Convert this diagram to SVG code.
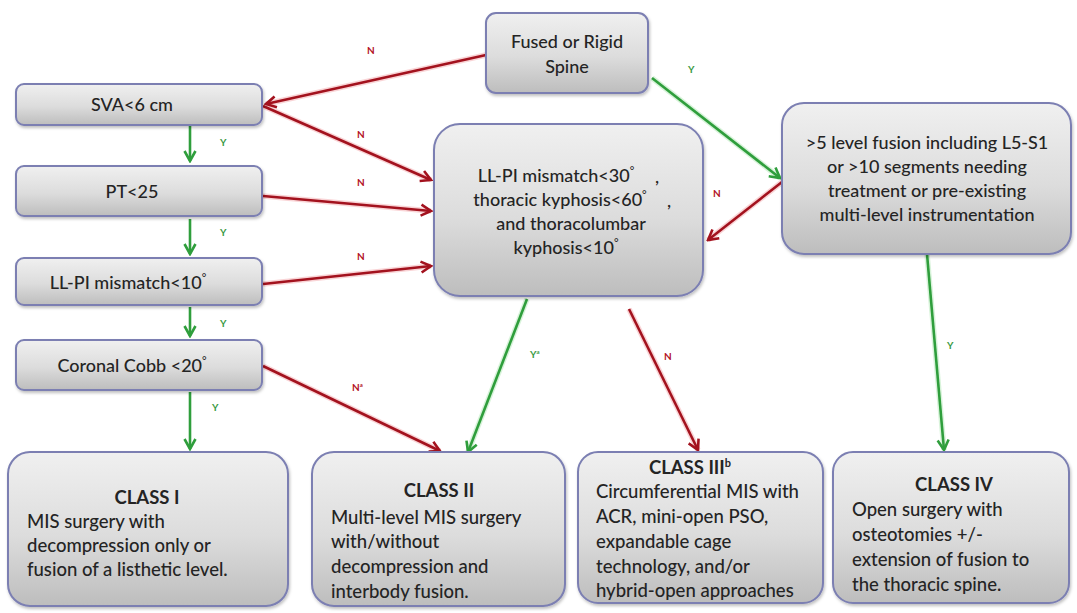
<svg xmlns="http://www.w3.org/2000/svg" width="1077" height="613" viewBox="0 0 1077 613">
<style>
.box{fill:url(#g);stroke:#7b7fb2;stroke-width:2;filter:url(#sh)}
.t{font-family:Lato,"Liberation Sans",sans-serif;font-size:18px;font-weight:500;fill:#242424}
.k{font-size:18.5px}
.c{text-anchor:middle}
.b{font-weight:bold}
.d{font-size:11px}
.red{stroke:#a3121e;stroke-width:2.6;fill:none}
.grn{stroke:#2f9e3c;stroke-width:2.6;fill:none}
.rh{stroke:#f2a0a4;stroke-width:5.5;fill:none;opacity:.45}
.gh{stroke:#a8e4ae;stroke-width:5.5;fill:none;opacity:.45}
.ln{font-family:Lato,"Liberation Sans",sans-serif;font-size:10px;font-weight:bold;fill:#b3121f}
.ly{font-family:Lato,"Liberation Sans",sans-serif;font-size:10px;font-weight:bold;fill:#3a9a44}
</style>
<defs>
<linearGradient id="g" x1="0" y1="0" x2="0" y2="1">
<stop offset="0" stop-color="#f0f0f0"/>
<stop offset="0.55" stop-color="#dcdcdc"/>
<stop offset="1" stop-color="#bdbdbd"/>
</linearGradient>
<filter id="sh" x="-10%" y="-10%" width="120%" height="125%">
<feDropShadow dx="1" dy="2" stdDeviation="1.5" flood-color="#000" flood-opacity="0.25"/>
</filter>
<marker id="ar" viewBox="0 0 14 14" refX="12" refY="7" markerWidth="14" markerHeight="14" markerUnits="userSpaceOnUse" orient="auto">
<path d="M2,1.5 L12,7 L2,12.5" fill="none" stroke="#a3121e" stroke-width="2.6"/>
</marker>
<marker id="ag" viewBox="0 0 14 14" refX="12" refY="7" markerWidth="14" markerHeight="14" markerUnits="userSpaceOnUse" orient="auto">
<path d="M2,1.5 L12,7 L2,12.5" fill="none" stroke="#2f9e3c" stroke-width="2.6"/>
</marker>
</defs>
<rect width="1077" height="613" fill="#ffffff"/>

<g id="connectors">
<g id="halos">
<line class="rh" x1="486" y1="55" x2="266" y2="104"/>
<line class="rh" x1="263" y1="106" x2="431" y2="180"/>
<line class="rh" x1="263" y1="196" x2="431" y2="211"/>
<line class="rh" x1="263" y1="284" x2="431" y2="266"/>
<line class="rh" x1="263" y1="366" x2="440" y2="451"/>
<line class="rh" x1="629" y1="309" x2="698" y2="450"/>
<line class="rh" x1="782" y1="182" x2="708" y2="240"/>
<line class="gh" x1="652" y1="78" x2="780" y2="178"/>
<line class="gh" x1="927" y1="254" x2="944" y2="450"/>
<line class="gh" x1="527" y1="299" x2="468" y2="452"/>
</g>
<line class="red" x1="486" y1="55" x2="266" y2="104" marker-end="url(#ar)"/>
<line class="red" x1="263" y1="106" x2="431" y2="180" marker-end="url(#ar)"/>
<line class="red" x1="263" y1="196" x2="431" y2="211" marker-end="url(#ar)"/>
<line class="red" x1="263" y1="284" x2="431" y2="266" marker-end="url(#ar)"/>
<line class="red" x1="263" y1="366" x2="440" y2="451" marker-end="url(#ar)"/>
<line class="red" x1="629" y1="309" x2="698" y2="450" marker-end="url(#ar)"/>
<line class="red" x1="782" y1="182" x2="708" y2="240" marker-end="url(#ar)"/>
<line class="grn" x1="652" y1="78" x2="780" y2="178" marker-end="url(#ag)"/>
<line class="grn" x1="927" y1="254" x2="944" y2="450" marker-end="url(#ag)"/>
<line class="grn" x1="527" y1="299" x2="468" y2="452" marker-end="url(#ag)"/>
<line class="grn" x1="190" y1="126" x2="190" y2="161" marker-end="url(#ag)"/>
<line class="grn" x1="190" y1="219" x2="190" y2="254" marker-end="url(#ag)"/>
<line class="grn" x1="190" y1="307" x2="190" y2="336" marker-end="url(#ag)"/>
<line class="grn" x1="190" y1="392" x2="190" y2="449" marker-end="url(#ag)"/>
<text class="ln" x="367" y="54">N</text>
<text class="ln" x="357" y="138">N</text>
<text class="ln" x="357" y="186">N</text>
<text class="ln" x="357" y="260">N</text>
<text class="ln" x="352" y="391">N<tspan font-size="6" dy="-4">a</tspan></text>
<text class="ln" x="664" y="360">N</text>
<text class="ln" x="713" y="197">N</text>
<text class="ly" x="688" y="73">Y</text>
<text class="ly" x="947" y="349">Y</text>
<text class="ly" x="530" y="358">Y<tspan font-size="6" dy="-4">a</tspan></text>
<text class="ly" x="220" y="146">Y</text>
<text class="ly" x="220" y="236">Y</text>
<text class="ly" x="220" y="327">Y</text>
<text class="ly" x="212" y="411">Y</text>
</g>

<g id="fused">
<rect class="box" x="486" y="13" width="162" height="80" rx="10"/>
<text class="t c" x="567" y="48">Fused or Rigid</text>
<text class="t c" x="567" y="73">Spine</text>
</g>
<g id="sva">
<rect class="box" x="16" y="84" width="246" height="41" rx="8"/>
<text class="t c" x="132" y="111">SVA&lt;6 cm</text>
</g>
<g id="pt">
<rect class="box" x="16" y="166" width="246" height="50" rx="8"/>
<text class="t c" x="132" y="198">PT&lt;25</text>
</g>
<g id="llpi10">
<rect class="box" x="16" y="258" width="246" height="47" rx="8"/>
<text class="t c" x="128" y="289">LL-PI mismatch&lt;10<tspan class="d" dy="-7">°</tspan></text>
</g>
<g id="cobb">
<rect class="box" x="16" y="340" width="246" height="50" rx="8"/>
<text class="t c" x="132" y="372">Coronal Cobb &lt;20<tspan class="d" dy="-7">°</tspan></text>
</g>
<g id="center">
<rect class="box" x="434" y="124" width="269" height="172" rx="26"/>
<text class="t c" x="556" y="182">LL-PI mismatch&lt;30<tspan class="d" dy="-7">°</tspan></text>
<text class="t" x="655" y="183">,</text>
<text class="t c" x="560" y="206">thoracic kyphosis&lt;60<tspan class="d" dy="-7">°</tspan></text>
<text class="t" x="667" y="207">,</text>
<text class="t c" x="571" y="230">and thoracolumbar</text>
<text class="t c" x="566" y="254">kyphosis&lt;10<tspan class="d" dy="-7">°</tspan></text>
</g>
<g id="right">
<rect class="box" x="782" y="103" width="289" height="151" rx="22"/>
<text class="t c" x="927" y="149">&gt;5 level fusion including L5-S1</text>
<text class="t c" x="927" y="173">or &gt;10 segments needing</text>
<text class="t c" x="927" y="197">treatment or pre-existing</text>
<text class="t c" x="927" y="221">multi-level instrumentation</text>
</g>
<g id="class1">
<rect class="box" x="8" y="452" width="280" height="154" rx="22"/>
<text class="t k c b" x="147" y="504">CLASS I</text>
<text class="t k" x="27" y="528">MIS surgery with</text>
<text class="t k" x="27" y="552">decompression only or</text>
<text class="t k" x="27" y="576">fusion of a listhetic level.</text>
</g>
<g id="class2">
<rect class="box" x="312" y="452" width="253" height="154" rx="22"/>
<text class="t k c b" x="439" y="497">CLASS II</text>
<text class="t k" x="331" y="524">Multi-level MIS surgery</text>
<text class="t k" x="331" y="548">with/without</text>
<text class="t k" x="331" y="573">decompression and</text>
<text class="t k" x="331" y="598">interbody fusion.</text>
</g>
<g id="class3">
<rect class="box" x="578" y="452" width="245" height="151" rx="20"/>
<text class="t k c b" x="690" y="474">CLASS III<tspan font-size="11" dy="-7">b</tspan></text>
<text class="t k" x="596" y="498">Circumferential MIS with</text>
<text class="t k" x="596" y="523">ACR, mini-open PSO,</text>
<text class="t k" x="596" y="548">expandable cage</text>
<text class="t k" x="596" y="573">technology, and/or</text>
<text class="t k" x="596" y="597">hybrid-open approaches</text>
</g>
<g id="class4">
<rect class="box" x="833" y="452" width="236" height="151" rx="20"/>
<text class="t k c b" x="954" y="491">CLASS IV</text>
<text class="t k" x="852" y="516">Open surgery with</text>
<text class="t k" x="852" y="541">osteotomies +/-</text>
<text class="t k" x="852" y="566">extension of fusion to</text>
<text class="t k" x="852" y="591">the thoracic spine.</text>
</g>
</svg>
